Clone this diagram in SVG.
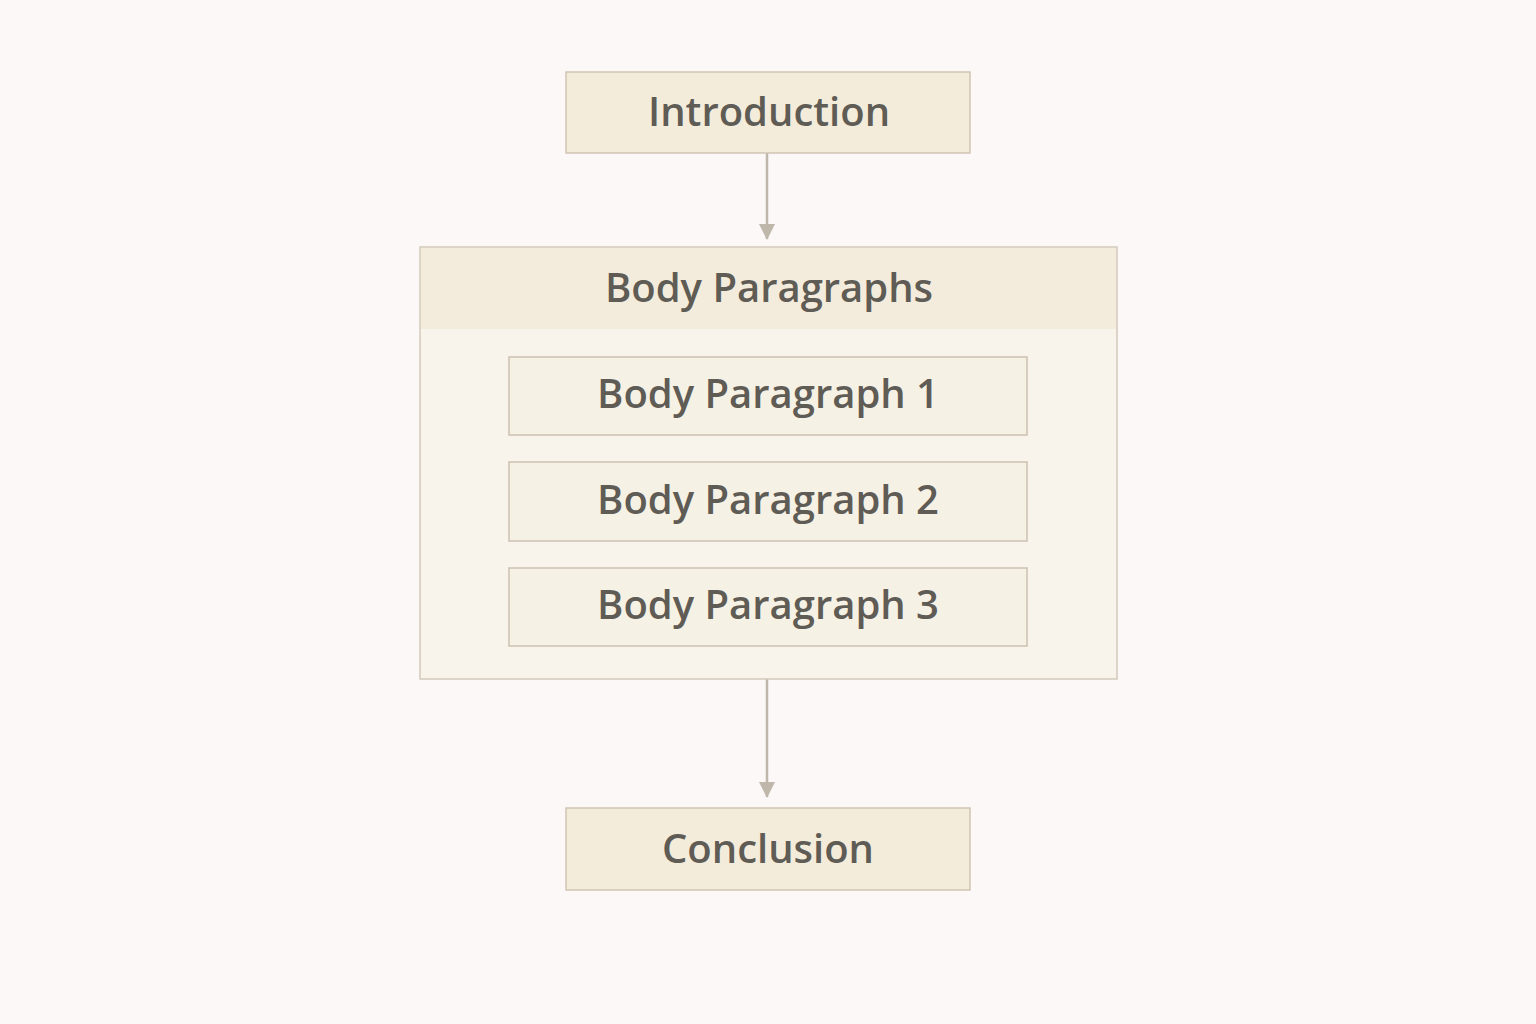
<svg xmlns="http://www.w3.org/2000/svg" width="1536" height="1024" viewBox="0 0 1536 1024">
  <style>
    .lbl { font-family: "Open Sans", "Noto Sans", "Liberation Sans", sans-serif; font-size: 40px; font-weight: 600; fill: #5f5b55; text-anchor: middle; }
    .box { fill: #f3ecdb; stroke: #cfc5b4; stroke-width: 1.5; }
    .inner { fill: #f6f1e5; stroke: #cbc1b1; stroke-width: 1.5; }
    .conn { stroke: #bfb7aa; stroke-width: 2.5; fill: none; }
  </style>
  <defs>
    <marker id="arrow" viewBox="0 0 16 16" refX="15" refY="8" markerWidth="16" markerHeight="16" markerUnits="userSpaceOnUse" orient="auto">
      <path d="M0,0 L16,8 L0,16 z" fill="#bfb7aa"/>
    </marker>
  </defs>
  <rect width="1536" height="1024" fill="#fcf8f8"/>

  <g id="connectors">
    <line class="conn" x1="767" y1="153" x2="767" y2="239" marker-end="url(#arrow)"/>
    <line class="conn" x1="767" y1="679" x2="767" y2="797" marker-end="url(#arrow)"/>
  </g>

  <g id="introduction">
    <rect class="box" x="566" y="72" width="404" height="81"/>
    <text class="lbl" x="769" y="126">Introduction</text>
  </g>

  <g id="body-paragraphs">
    <rect x="420" y="247" width="697" height="432" fill="#f8f4ec" stroke="#d2c9b9" stroke-width="1.5"/>
    <rect x="421" y="248" width="695" height="81" fill="#f3ecdc"/>
    <text class="lbl" x="769" y="302">Body Paragraphs</text>
  </g>

  <g id="body-paragraph-1">
    <rect class="inner" x="509" y="357" width="518" height="78"/>
    <text class="lbl" x="768" y="408">Body Paragraph 1</text>
  </g>

  <g id="body-paragraph-2">
    <rect class="inner" x="509" y="462" width="518" height="79"/>
    <text class="lbl" x="768" y="514">Body Paragraph 2</text>
  </g>

  <g id="body-paragraph-3">
    <rect class="inner" x="509" y="568" width="518" height="78"/>
    <text class="lbl" x="768" y="619">Body Paragraph 3</text>
  </g>

  <g id="conclusion">
    <rect class="box" x="566" y="808" width="404" height="82"/>
    <text class="lbl" x="768" y="863">Conclusion</text>
  </g>
</svg>
